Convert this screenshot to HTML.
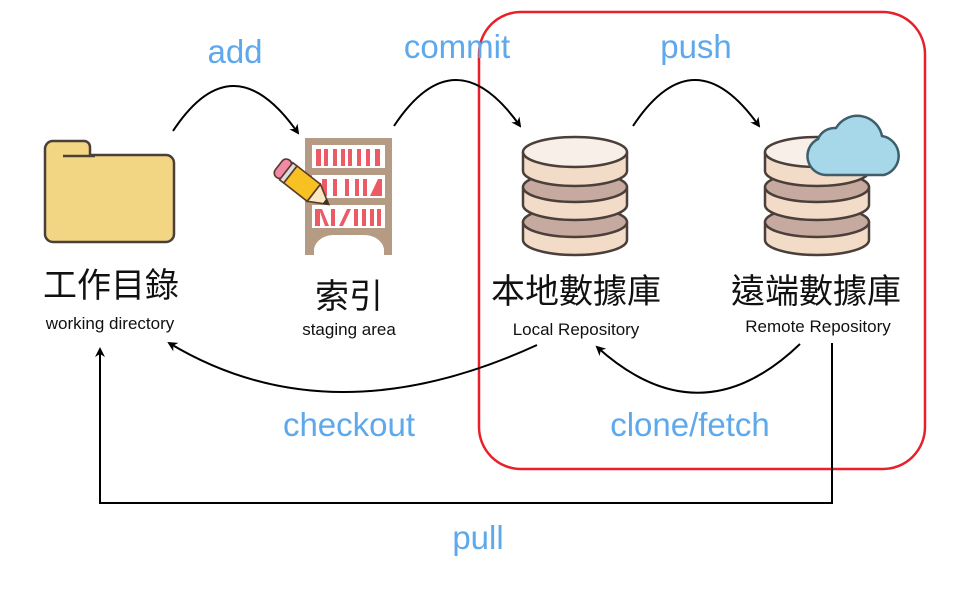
<!DOCTYPE html>
<html><head><meta charset="utf-8"><style>
html,body{margin:0;padding:0;background:#fff;}
svg{display:block;}
.b{fill:#5ea8ec;font-family:"Liberation Sans",sans-serif;font-size:33px;text-anchor:middle;}
.cn{fill:#111;font-family:"Liberation Sans","Noto Sans CJK TC",sans-serif;font-size:34px;text-anchor:middle;}
.en{fill:#111;font-family:"Liberation Sans",sans-serif;font-size:17px;text-anchor:middle;}
.ln{fill:none;stroke:#000;stroke-width:2;}
.d{stroke:#4a3f3a;stroke-width:2.5;}
</style></head><body>
<svg width="956" height="594" viewBox="0 0 956 594" xmlns="http://www.w3.org/2000/svg">
<defs>
<marker id="ar" markerWidth="10" markerHeight="10" refX="8" refY="5" orient="auto" markerUnits="userSpaceOnUse">
<path d="M0,0 L10,5 L0,10 L3,5 Z" fill="#000"/></marker>
</defs>

<rect x="479" y="12" width="446" height="457" rx="42" fill="none" stroke="#e8202a" stroke-width="2.5"/>

<path d="M52,141 h32 a6,6 0 0 1 6,6 v8 h76 a8,8 0 0 1 8,8 v71 a8,8 0 0 1 -8,8 h-113 a8,8 0 0 1 -8,-8 v-85 a8,8 0 0 1 7,-8 z" fill="#f2d684" stroke="#4a3f3a" stroke-width="2.5"/>
<line x1="63" y1="156" x2="95" y2="156" stroke="#4a3f3a" stroke-width="2.5"/>

<rect x="305" y="138" width="87" height="117" fill="#b59a84"/>
<rect x="312" y="145" width="73" height="23" fill="#fff"/>
<rect x="312" y="175" width="73" height="23" fill="#fff"/>
<rect x="312" y="205" width="73" height="23" fill="#fff"/>
<path d="M314,255 v-6 a20,16 0 0 1 20,-14 h30 a20,16 0 0 1 20,14 v6 z" fill="#fff"/>
<g fill="#ec5a66">
<rect x="316" y="149" width="5" height="17"/><rect x="324" y="149" width="4" height="17"/><rect x="333" y="149" width="4" height="17"/><rect x="341" y="149" width="4" height="17"/><rect x="348" y="149" width="4" height="17"/><rect x="357" y="149" width="4" height="17"/><rect x="366" y="149" width="4" height="17"/><rect x="375" y="149" width="5" height="17"/>
<rect x="322" y="179" width="5" height="17"/><rect x="333" y="179" width="4" height="17"/><rect x="345" y="179" width="4" height="17"/><rect x="355" y="179" width="4" height="17"/><rect x="363" y="179" width="4" height="17"/><path d="M370,196 l8,-17 h4 v17 z"/>
<rect x="315" y="209" width="5" height="17"/><path d="M322,209 l7,17 h-4 l-6,-17z"/><rect x="331" y="209" width="4" height="17"/><path d="M339,226 l8,-17 h4 l-8,17z"/><rect x="354" y="209" width="4" height="17"/><rect x="362" y="209" width="4" height="17"/><rect x="370" y="209" width="4" height="17"/><rect x="377" y="209" width="4" height="17"/>
</g>
<g transform="translate(300,182) rotate(38) scale(1.35)">
<rect x="-20" y="-8" width="8" height="16" rx="4" fill="#f08aa8" stroke="#5a3a2a" stroke-width="1.2"/>
<rect x="-13" y="-8" width="4" height="16" fill="#ddd" stroke="#5a3a2a" stroke-width="1.2"/>
<rect x="-9" y="-8" width="22" height="16" fill="#f7c023" stroke="#5a3a2a" stroke-width="1.2"/>
<path d="M13,-8 L27,0 L13,8 Z" fill="#fbe7c2" stroke="#5a3a2a" stroke-width="1.2"/>
<path d="M23,-2.3 L27,0 L23,2.3Z" fill="#333"/>
</g>

<g transform="translate(575,222)"><path class="d" d="M-52,0 v18 a52,15 0 0 0 104,0 v-18" fill="#f3dcc7"/><ellipse class="d" cx="0" cy="0" rx="52" ry="15" fill="#c6aaa0"/></g>
<g transform="translate(575,187)"><path class="d" d="M-52,0 v18 a52,15 0 0 0 104,0 v-18" fill="#f3dcc7"/><ellipse class="d" cx="0" cy="0" rx="52" ry="15" fill="#c6aaa0"/></g>
<g transform="translate(575,152)"><path class="d" d="M-52,0 v19 a52,15 0 0 0 104,0 v-19" fill="#f3dcc7"/><ellipse class="d" cx="0" cy="0" rx="52" ry="15" fill="#f8efe8"/></g>

<g transform="translate(817,222)"><path class="d" d="M-52,0 v18 a52,15 0 0 0 104,0 v-18" fill="#f3dcc7"/><ellipse class="d" cx="0" cy="0" rx="52" ry="15" fill="#c6aaa0"/></g>
<g transform="translate(817,187)"><path class="d" d="M-52,0 v18 a52,15 0 0 0 104,0 v-18" fill="#f3dcc7"/><ellipse class="d" cx="0" cy="0" rx="52" ry="15" fill="#c6aaa0"/></g>
<g transform="translate(817,152)"><path class="d" d="M-52,0 v19 a52,15 0 0 0 104,0 v-19" fill="#f3dcc7"/><ellipse class="d" cx="0" cy="0" rx="52" ry="15" fill="#f8efe8"/></g>
<path d="M826,175 a19,19 0 0 1 -8,-36 a18,18 0 0 1 18,-11 a25,25 0 0 1 46,8 a20,20 0 0 1 2,39 z" fill="#a6d8ea" stroke="#3d5e6a" stroke-width="2.5"/>

<path class="ln" marker-end="url(#ar)" d="M173,131 Q233,40 298,133"/>
<path class="ln" marker-end="url(#ar)" d="M394,126 Q455,34 520,126"/>
<path class="ln" marker-end="url(#ar)" d="M633,126 Q694,34 759,126"/>
<path class="ln" marker-end="url(#ar)" d="M537,345 Q330,440 169,343"/>
<path class="ln" marker-end="url(#ar)" d="M800,344 Q700,440 597,347"/>
<path class="ln" marker-end="url(#ar)" d="M832,343 V503 H100 V349"/>

<text class="b" x="235" y="63">add</text>
<text class="b" x="457" y="58">commit</text>
<text class="b" x="696" y="58">push</text>
<text class="b" x="349" y="436">checkout</text>
<text class="b" x="690" y="436">clone/fetch</text>
<text class="b" x="478" y="549">pull</text>

<text class="cn" x="111" y="297">工作目錄</text>
<text class="en" x="110" y="329">working directory</text>
<text class="cn" x="349" y="308">索引</text>
<text class="en" x="349" y="335">staging area</text>
<text class="cn" x="576" y="303">本地數據庫</text>
<text class="en" x="576" y="335">Local Repository</text>
<text class="cn" x="816" y="303">遠端數據庫</text>
<text class="en" x="818" y="332">Remote Repository</text>
</svg>
</body></html>
